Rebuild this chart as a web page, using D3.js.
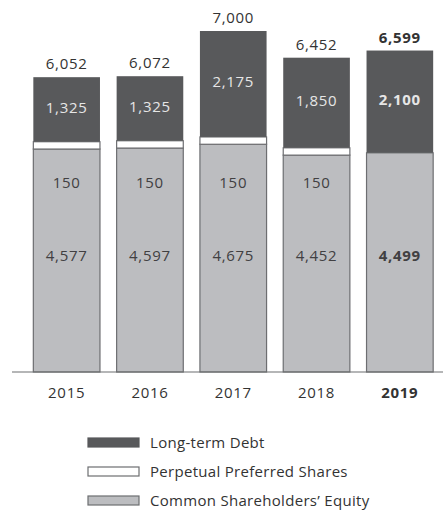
<!DOCTYPE html>
<html>
<head>
<meta charset="utf-8">
<script src="https://cdn.jsdelivr.net/npm/d3@7"></script>
<style>
  body { margin: 0; background: #fff; }
  text { font-family: "Open Sans", sans-serif; letter-spacing: 0.7px; }
</style>
</head>
<body>
<div id="chart"></div>
<script>
// data
let years = ["2015", "2016", "2017", "2018", "2019"];
let commonEquity = [4577, 4597, 4675, 4452, 4499];
let preferred = [150, 150, 150, 150, 0];
let longTermDebt = [1325, 1325, 2175, 1850, 2100];
let totals = [6052, 6072, 7000, 6452, 6599];
let seriesNames = ["Long-term Debt", "Perpetual Preferred Shares", "Common Shareholders\u2019 Equity"];

let width = 443, height = 511;
let dark = "#58595b", light = "#bcbdc0", edge = "#6d6e71";
let fs = 15;

let svg = d3.select("#chart").append("svg")
    .attr("width", width)
    .attr("height", height);

let x = d3.scaleBand().domain(years).range([25, 441.5])
    .paddingInner(0.2).paddingOuter(0.1);
let y = d3.scaleLinear().domain([0, 7000]).range([372, 31]);

let rows = years.map((yr, i) => ({
    year: yr, ce: commonEquity[i], pp: preferred[i], dt: longTermDebt[i], total: totals[i],
    bold: yr === "2019"
}));

let bars = svg.selectAll(".bar").data(rows).enter().append("g").attr("class", "bar");

// common equity
bars.append("rect")
    .attr("x", d => x(d.year))
    .attr("width", x.bandwidth())
    .attr("y", d => y(d.ce))
    .attr("height", d => y(0) - y(d.ce))
    .attr("fill", light).attr("stroke", edge).attr("stroke-width", 1.2);

// perpetual preferred
bars.filter(d => d.pp > 0).append("rect")
    .attr("x", d => x(d.year))
    .attr("width", x.bandwidth())
    .attr("y", d => y(d.ce + d.pp))
    .attr("height", d => y(d.ce) - y(d.ce + d.pp))
    .attr("fill", "#fff").attr("stroke", edge).attr("stroke-width", 1.2);

// debt
bars.append("rect")
    .attr("x", d => x(d.year))
    .attr("width", x.bandwidth())
    .attr("y", d => y(d.ce + d.pp + d.dt))
    .attr("height", d => y(d.ce + d.pp) - y(d.ce + d.pp + d.dt))
    .attr("fill", dark);

let fmt = d3.format(",");
let cx = d => x(d.year) + x.bandwidth() / 2;
let weight = d => d.bold ? 700 : 400;

bars.append("text")
    .attr("x", cx)
    .attr("y", d => y(d.total) - 8)
    .attr("text-anchor", "middle")
    .attr("font-size", fs)
    .attr("font-weight", weight)
    .attr("fill", "#333")
    .text(d => fmt(d.total));

bars.append("text")
    .attr("x", cx)
    .attr("y", d => (y(d.ce + d.pp) + y(d.ce + d.pp + d.dt)) / 2 - 2)
    .attr("dy", "0.35em")
    .attr("text-anchor", "middle")
    .attr("font-size", fs)
    .attr("font-weight", weight)
    .attr("fill", "#e6e6e6")
    .text(d => fmt(d.dt));

bars.filter(d => d.pp > 0).append("text")
    .attr("x", cx)
    .attr("y", y(3880))
    .attr("dy", "0.35em")
    .attr("text-anchor", "middle")
    .attr("font-size", fs)
    .attr("fill", "#414042")
    .text(d => fmt(d.pp));

bars.append("text")
    .attr("x", cx)
    .attr("y", y(2380))
    .attr("dy", "0.35em")
    .attr("text-anchor", "middle")
    .attr("font-size", fs)
    .attr("font-weight", weight)
    .attr("fill", "#414042")
    .text(d => fmt(d.ce));

// axis
svg.append("line")
    .attr("x1", 12).attr("x2", width)
    .attr("y1", y(0)).attr("y2", y(0))
    .attr("stroke", edge).attr("stroke-width", 1.2);

svg.selectAll(".year").data(rows).enter().append("text")
    .attr("x", cx)
    .attr("y", 398)
    .attr("text-anchor", "middle")
    .attr("font-size", fs)
    .attr("font-weight", weight)
    .attr("fill", "#333")
    .text(d => d.year);

// legend
let legendFills = [dark, "#fff", light];
let legendStrokes = [dark, edge, edge];
let lg = svg.selectAll(".legend").data(seriesNames).enter().append("g")
    .attr("class", "legend")
    .attr("transform", (d, i) => "translate(88," + (438 + i * 29) + ")");

lg.append("rect")
    .attr("width", 51).attr("height", 9)
    .attr("fill", (d, i) => legendFills[i])
    .attr("stroke", (d, i) => legendStrokes[i])
    .attr("stroke-width", 1.2);

lg.append("text")
    .attr("x", 62).attr("y", 5)
    .attr("dy", "0.35em")
    .attr("font-size", fs)
    .attr("fill", "#333")
    .style("letter-spacing", "0.3px")
    .text(d => d);
</script>
</body>
</html>
